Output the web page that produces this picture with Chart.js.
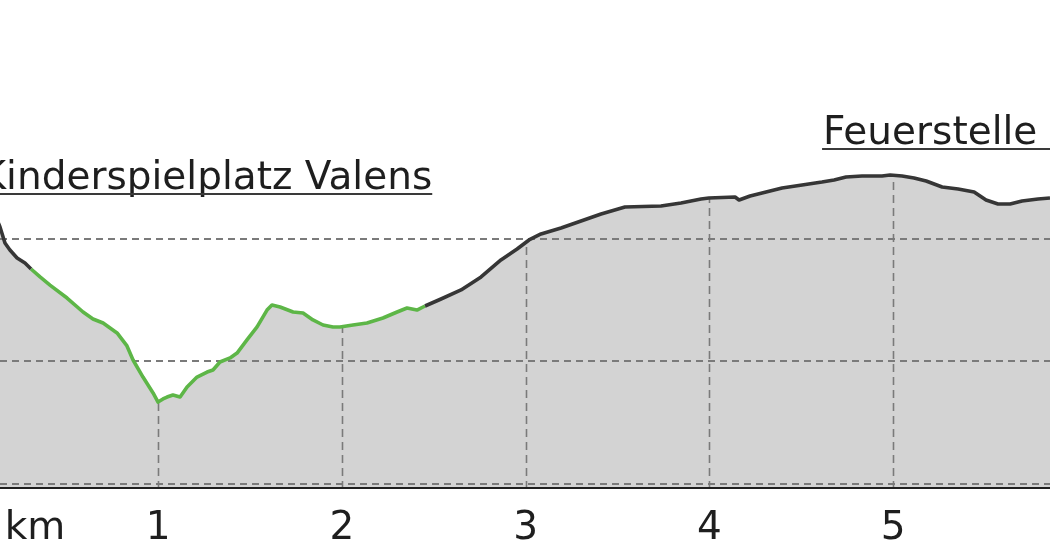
<!DOCTYPE html>
<html>
<head>
<meta charset="utf-8">
<script src="https://cdn.jsdelivr.net/npm/chart.js@4.4.1/dist/chart.umd.min.js"></script>
<style>
  html, body { margin: 0; padding: 0; background: #ffffff; }
  #wrap { position: relative; width: 1050px; height: 560px; overflow: hidden; }
</style>
</head>
<body>
<div id="wrap"><canvas id="c" width="1050" height="560"></canvas></div>
<script>
// ---- data (km along the route, elevation in m) ----
const distanceKm = [
  0.113, 0.140, 0.167, 0.194, 0.233, 0.276, 0.309,
  0.358, 0.412, 0.505, 0.592, 0.646, 0.701, 0.777, 0.831, 0.864, 0.918, 0.973, 1.000,
  1.027, 1.049, 1.081, 1.120, 1.158, 1.212, 1.267, 1.299, 1.337, 1.392, 1.430, 1.484,
  1.539, 1.593, 1.620, 1.664, 1.735, 1.789, 1.843, 1.898, 1.952, 1.990, 2.061, 2.137,
  2.224, 2.301, 2.355, 2.409, 2.453,
  2.540, 2.649, 2.758, 2.866, 2.954, 3.019, 3.084, 3.193, 3.302, 3.411, 3.541, 3.737,
  3.846, 3.955, 3.998, 4.140, 4.162, 4.222, 4.309, 4.396, 4.505, 4.613, 4.679, 4.744,
  4.831, 4.940, 4.984, 5.049, 5.114, 5.180, 5.267, 5.354, 5.441, 5.506, 5.571, 5.637,
  5.702, 5.789, 5.854, 5.909
];
const elevationM = [
  1019.6, 1009.8, 996.7, 991.0, 984.5, 980.4, 975.5,
  969.0, 962.4, 951.8, 940.4, 934.7, 931.4, 923.3, 912.7, 901.2, 887.3, 874.3, 866.9,
  869.4, 871.0, 872.7, 871.0, 879.2, 887.3, 891.4, 893.1, 899.6, 902.9, 906.9, 917.6,
  928.2, 942.0, 946.1, 944.5, 940.4, 939.6, 933.9, 929.8, 928.2, 928.2, 929.8, 931.4,
  935.5, 940.4, 943.7, 942.0, 945.3,
  951.0, 958.4, 969.0, 982.9, 991.8, 999.2, 1004.1, 1009.0, 1014.7, 1020.4, 1026.1, 1026.9,
  1029.4, 1032.6, 1033.5, 1034.3, 1031.8, 1035.1, 1038.4, 1041.6, 1044.1, 1046.5, 1048.2, 1050.6,
  1051.4, 1051.4, 1052.2, 1051.4, 1049.8, 1047.3, 1042.4, 1040.8, 1038.4, 1031.8, 1028.6, 1028.6,
  1031.0, 1032.6, 1033.5, 1034.3
];
const greenSectionKm = [0.309, 2.453];     // highlighted part of the route
const xTickValues = [1, 2, 3, 4, 5];        // km tick labels
const unitLabel = 'km';
const unitLabelKm = 0.33;
const yGridValues = [800, 900, 1000];       // dashed elevation lines
const waypointNames = ['Kinderspielplatz Valens', 'Feuerstelle'];
const waypointKm = [0.034, 4.619];
const waypointElev = [1040.8, 1077.5];

// ---- styles ----
const FONT = "'DejaVu Sans', 'Liberation Sans', sans-serif";
const darkLine = '#363636';
const greenLine = '#5db647';
const fillGray = '#d3d3d3';
const gridGray = '#7a7a7a';
const textColor = '#1e1e1e';

const points = distanceKm.map((k, i) => ({ x: k, y: elevationM[i] }));

const decor = {
  id: 'decor',
  beforeDatasetDraw(chart, args) {
    if (args.index !== 0) return;   // draw grid after the fill, before the line
    const { ctx, chartArea: a, scales: { x, y } } = chart;
    const meta = chart.getDatasetMeta(1);
    ctx.save();
    ctx.beginPath();
    ctx.rect(a.left, a.top, a.right - a.left, a.bottom - a.top);
    ctx.clip();
    ctx.strokeStyle = gridGray;
    ctx.lineWidth = 2;
    ctx.setLineDash([7, 5]);
    yGridValues.forEach(v => {
      const py = Math.round(y.getPixelForValue(v));
      ctx.beginPath();
      ctx.moveTo(a.left, py);
      ctx.lineTo(a.right, py);
      ctx.stroke();
    });
    const pts = meta.data;
    ctx.beginPath();
    pts.forEach((p, i) => (i ? ctx.lineTo(p.x, p.y) : ctx.moveTo(p.x, p.y)));
    ctx.lineTo(pts[pts.length - 1].x, a.bottom);
    ctx.lineTo(pts[0].x, a.bottom);
    ctx.closePath();
    ctx.clip();
    ctx.lineWidth = 1.6;
    ctx.setLineDash([8, 5]);
    xTickValues.forEach(v => {
      const px = Math.round(x.getPixelForValue(v)) + 0.5;
      ctx.beginPath();
      ctx.moveTo(px, a.top);
      ctx.lineTo(px, a.bottom);
      ctx.stroke();
    });
    ctx.restore();
  },
  afterDatasetsDraw(chart) {
    const { ctx, chartArea: a, scales: { x, y } } = chart;
    ctx.save();
    ctx.font = '39px ' + FONT;
    ctx.fillStyle = textColor;
    ctx.strokeStyle = '#3a3a3a';
    ctx.textBaseline = 'alphabetic';
    ctx.textAlign = 'left';
    waypointNames.forEach((name, i) => {
      const px = x.getPixelForValue(waypointKm[i]);
      const py = y.getPixelForValue(waypointElev[i]);
      ctx.fillText(name, px, py);
      const w = ctx.measureText(name).width;
      ctx.lineWidth = 2;
      ctx.setLineDash([]);
      ctx.beginPath();
      const uy = Math.round(py + 5);
      ctx.moveTo(px - 1, uy);
      ctx.lineTo(i === waypointNames.length - 1 ? a.right + 5 : px + w, uy);
      ctx.stroke();
    });
    ctx.restore();
  }
};

new Chart(document.getElementById('c'), {
  type: 'line',
  data: {
    datasets: [{
      // profile line (drawn on top)
      data: points,
      borderColor: darkLine,
      borderWidth: 3.6,
      borderJoinStyle: 'round',
      fill: false,
      pointRadius: 0,
      pointHoverRadius: 0,
      pointBorderWidth: 0,
      tension: 0,
      segment: {
        borderColor: c => (c.p0.parsed.x >= greenSectionKm[0] - 1e-6 && c.p1.parsed.x <= greenSectionKm[1] + 1e-6) ? greenLine : darkLine
      }
    }, {
      // area under the profile
      data: points,
      borderWidth: 0,
      borderColor: 'rgba(0,0,0,0)',
      backgroundColor: fillGray,
      fill: 'start',
      pointRadius: 0,
      pointHoverRadius: 0,
      pointBorderWidth: 0,
      tension: 0
    }]
  },
  plugins: [decor],
  options: {
    responsive: false,
    animation: false,
    events: [],
    layout: { padding: 0, autoPadding: false },
    plugins: {
      legend: { display: false },
      tooltip: { enabled: false }
    },
    scales: {
      x: {
        type: 'linear',
        min: 0.14,
        max: 5.854,
        z: 1,
        grid: { display: false, drawTicks: false },
        border: { display: true, color: '#1e1e1e', width: 3 },
        afterBuildTicks: axis => {
          axis.ticks = [unitLabelKm, ...xTickValues].map(v => ({ value: v }));
        },
        afterFit: axis => {
          axis.height = 73;
          axis.paddingLeft = 0;
          axis.paddingRight = 0;
        },
        ticks: {
          autoSkip: false,
          maxRotation: 0,
          padding: 18,
          color: textColor,
          font: { family: FONT, size: 39 },
          callback: v => (v === unitLabelKm ? unitLabel : String(v))
        }
      },
      y: {
        display: false,
        min: 797.55,
        max: 1195.1
      }
    }
  }
});
</script>
</body>
</html>
